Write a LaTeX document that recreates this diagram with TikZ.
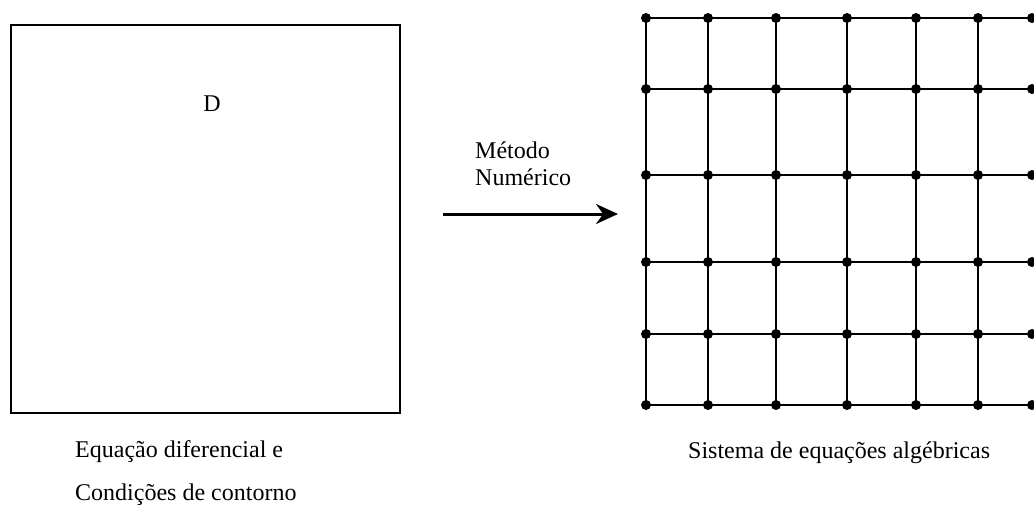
\documentclass[tikz,border=0pt]{standalone}
\usepackage{fontspec}
\setmainfont{Liberation Serif}
\usetikzlibrary{arrows.meta}
\begin{document}
\begin{tikzpicture}[x=1pt,y=-1pt,
  lbl/.style={inner sep=0pt,anchor=base west,font=\fontsize{24}{28}\selectfont},
  gridline/.style={line width=2pt},
  gdot/.style={circle,fill=black,inner sep=0pt,minimum size=10pt},
  domainbox/.style={draw,line width=2pt,inner sep=0pt},
  bigarrow/.style={line width=3pt,-{Stealth[length=22pt,width=20pt]}}]
\useasboundingbox (0,0) rectangle (1034,504);
% domain box
\node[domainbox,minimum width=389pt,minimum height=388pt] (box) at (205.5,219) {};
\node[inner sep=0pt,font=\fontsize{24}{28}\selectfont] (D) at (212,104) {D};
\node[lbl] (eq1) at (75,457) {Equação diferencial e};
\node[lbl] (eq2) at (75,500) {Condições de contorno};
% arrow
\coordinate (a0) at (443,214);
\coordinate (a1) at (618,214);
\draw[bigarrow] (a0) -- (a1);
\node[lbl] (m1) at (475,158) {Método};
\node[lbl] (m2) at (475,185) {Numérico};
% grid
\foreach \i/\x in {1/646,2/708,3/776,4/847,5/916,6/978,7/1032}{
  \foreach \j/\y in {1/18,2/89,3/175,4/262,5/334,6/405}{
    \node[gdot] (g\i-\j) at (\x,\y) {};
  }
}
\foreach \j in {1,...,6}{
  \draw[gridline] (g1-\j.center) -- (g7-\j.center);
}
\foreach \i in {1,...,6}{
  \draw[gridline] (g\i-1.center) -- (g\i-6.center);
}
\node[lbl] (sys) at (688,458) {Sistema de equações algébricas};
\end{tikzpicture}
\end{document}
